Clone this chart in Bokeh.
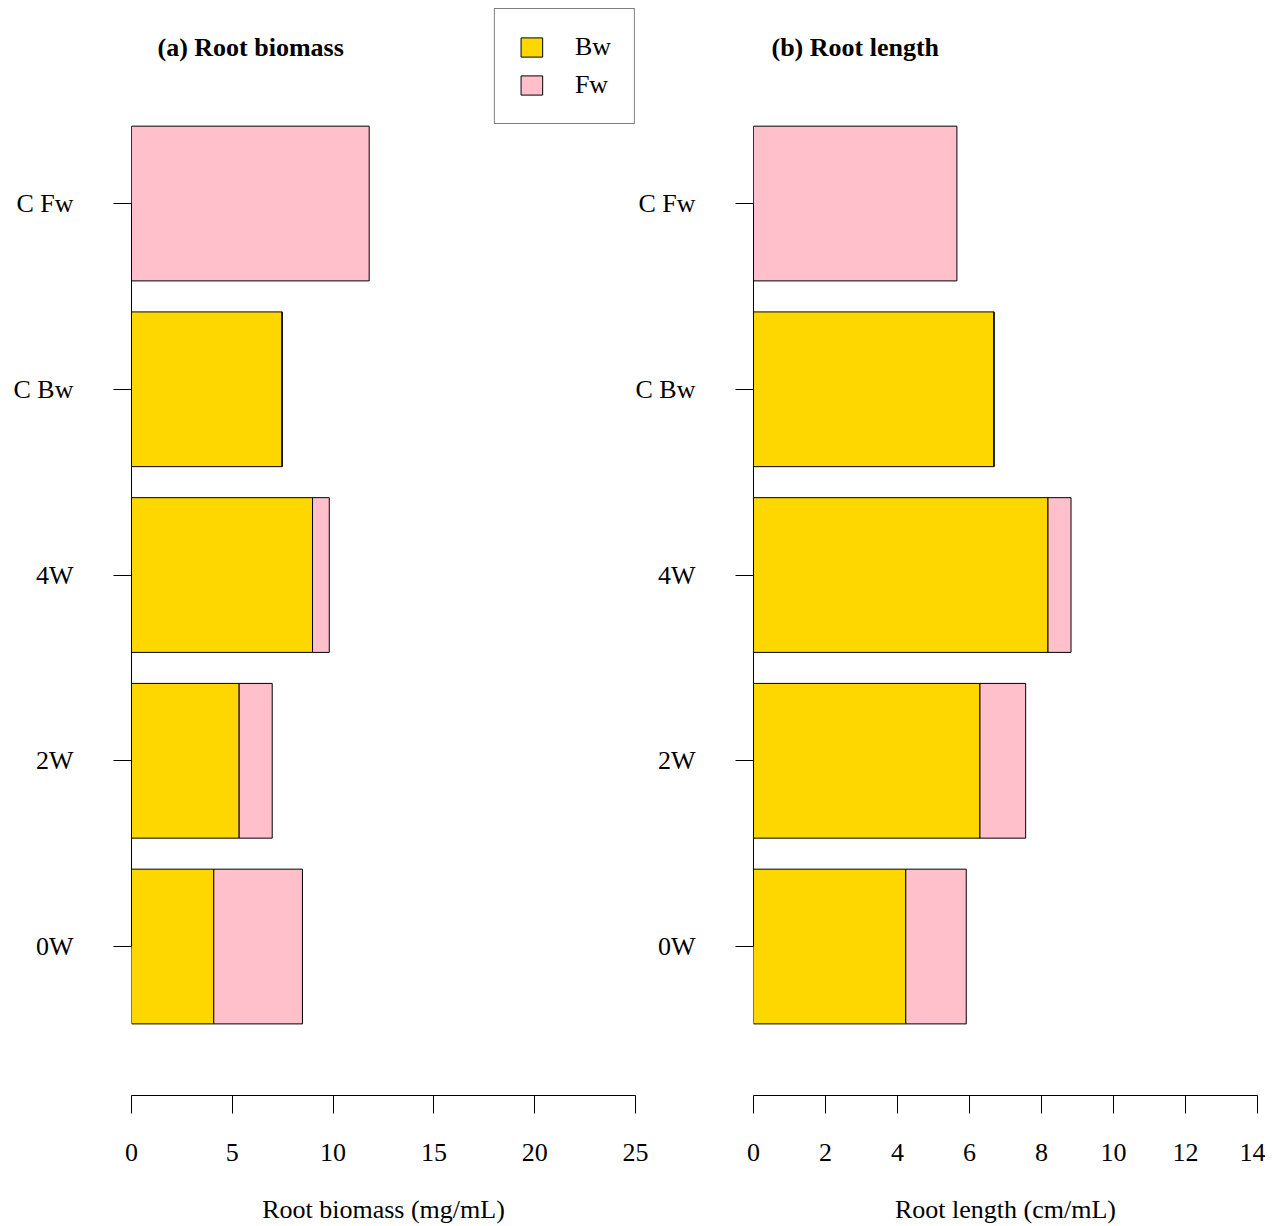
from bokeh.plotting import figure
from bokeh.layouts import row
from bokeh.models import Legend, LegendItem, Label, FixedTicker, ColumnDataSource, Range1d
from bokeh.embed import file_html
from bokeh.resources import INLINE

# ---- data ----
categories = ["0W", "2W", "4W", "C Bw", "C Fw"]
series = ["Bw", "Fw"]
biomass_bw = [4.08, 5.34, 8.98, 7.47, 0.0]
biomass_fw = [4.40, 1.64, 0.83, 0.0, 11.79]
length_bw = [4.23, 6.29, 8.18, 6.68, 0.0]
length_fw = [1.68, 1.27, 0.64, 0.0, 5.65]
biomass_ticks = [0, 5, 10, 15, 20, 25]
length_ticks = [0, 2, 4, 6, 8, 10, 12, 14]
colors = ["#FFD700", "#FFC0CB"]

FONT = "Liberation Serif"
FS = "26px"
positions = list(range(len(categories)))


def make_panel(bw, fw, ticks, xlabel, title, title_x, width, min_left, min_right):
    p = figure(width=width, height=1226, output_backend="svg", toolbar_location=None,
               x_range=Range1d(ticks[0], ticks[-1]), y_range=Range1d(-0.802, 5.05),
               min_border_left=min_left, min_border_right=min_right,
               min_border_top=8, min_border_bottom=131)
    p.outline_line_color = None
    p.xgrid.visible = False
    p.ygrid.visible = False
    src = ColumnDataSource(dict(pos=positions, Bw=bw, Fw=fw))
    rs = p.hbar_stack(series, y="pos", height=0.833, fill_color=colors,
                      line_color="black", line_width=1, source=src)

    # y axis
    ya = p.yaxis[0]
    ya.ticker = FixedTicker(ticks=positions)
    ya.major_label_overrides = {i: c for i, c in zip(positions, categories)}
    ya.bounds = (positions[0], positions[-1])
    ya.minor_tick_line_color = None
    ya.major_tick_in = 0
    ya.major_tick_out = 18
    ya.major_label_standoff = 40
    ya.major_label_text_font = FONT
    ya.major_label_text_font_size = FS
    ya.major_label_text_color = "black"
    ya.axis_line_color = "black"
    ya.major_tick_line_color = "black"

    # x axis
    xa = p.xaxis[0]
    xa.ticker = FixedTicker(ticks=ticks)
    xa.bounds = (ticks[0], ticks[-1])
    xa.minor_tick_line_color = None
    xa.major_tick_in = 0
    xa.major_tick_out = 18
    xa.major_label_standoff = 30
    xa.major_label_text_font = FONT
    xa.major_label_text_font_size = FS
    xa.major_label_text_color = "black"
    xa.axis_label = xlabel
    xa.axis_label_standoff = 31
    xa.axis_label_text_font = FONT
    xa.axis_label_text_font_size = FS
    xa.axis_label_text_font_style = "normal"
    xa.axis_label_text_color = "black"
    xa.axis_line_color = "black"
    xa.major_tick_line_color = "black"

    p.add_layout(Label(x=title_x, y=4.84, text=title, text_font=FONT,
                       text_font_style="bold", text_font_size=FS,
                       text_baseline="middle", text_align="left", text_color="black"))
    return p, rs


p1, r1 = make_panel(biomass_bw, biomass_fw, biomass_ticks, "Root biomass (mg/mL)",
                    "(a) Root biomass", 1.29, 650, 131, 15)
p2, r2 = make_panel(length_bw, length_fw, length_ticks, "Root length (cm/mL)",
                    "(b) Root length", 0.5, 636, 124, 8)
p2.margin = (0, 0, 0, -21)
p2.background_fill_color = None
p2.border_fill_color = None

legend = Legend(items=[LegendItem(label=s, renderers=[r]) for s, r in zip(series, r1)],
                location="top_right", margin=0, padding=23, spacing=8,
                glyph_width=27, glyph_height=24, label_standoff=30,
                label_width=36, label_height=30,
                label_text_font=FONT, label_text_font_size=FS, label_text_color="black",
                border_line_color="black", border_line_width=1,
                background_fill_color="white", background_fill_alpha=1.0)
p1.add_layout(legend)

layout = row(p1, p2)
open("out.html", "w").write(file_html(layout, INLINE))
